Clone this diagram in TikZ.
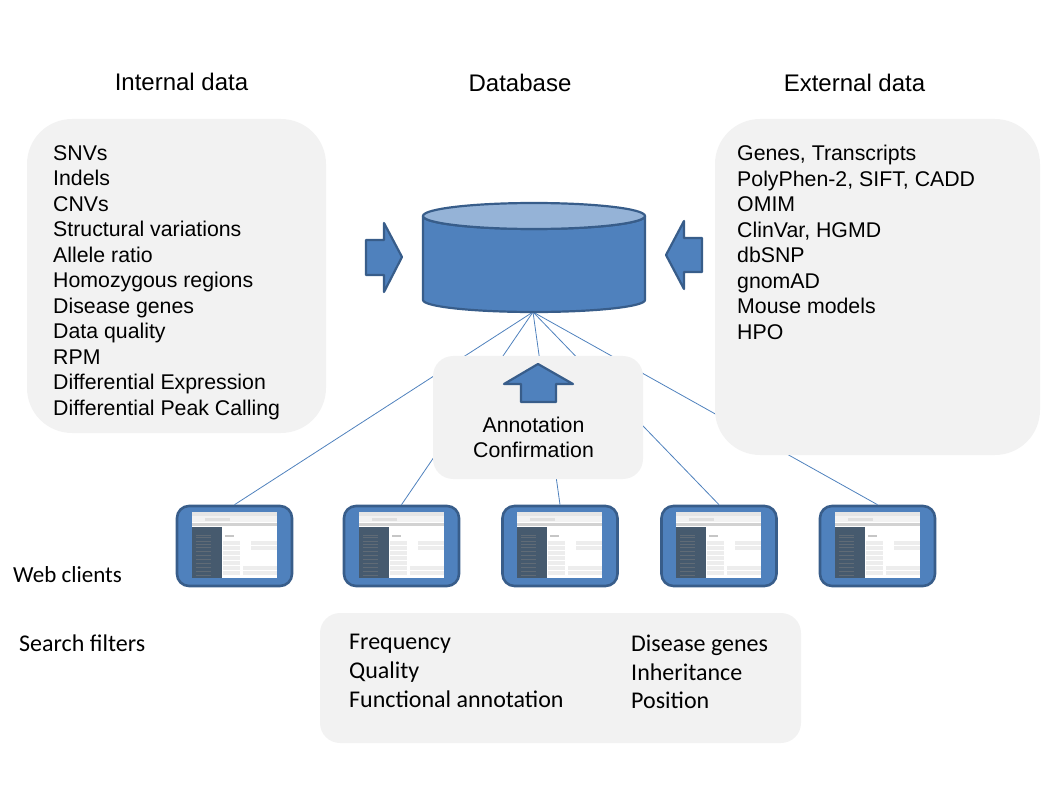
\documentclass[tikz,border=0pt]{standalone}
\usepackage{fontspec}
\setmainfont{Liberation Sans}
\newfontfamily\carlitofont{Carlito}
\definecolor{blueFill}{HTML}{4F81BD}
\definecolor{blueLine}{HTML}{385D8A}
\definecolor{blueTop}{HTML}{95B3D7}
\definecolor{panelGray}{HTML}{F2F2F2}
\definecolor{darkSide}{HTML}{465A6E}
\newcommand{\clientshot}[1]{%
  \begin{scope}[shift={(#1)}]
    \fill[white] (-43,-34) rectangle (42,32);
    \fill[gray!20] (-43,-34) rectangle (42,-30);
    \fill[gray!10] (-43,-30) rectangle (42,-24);
    \fill[gray!25] (-30,-28) rectangle (-5,-25.5);
    \fill[gray!35] (-43,-23) rectangle (42,-20);
    \fill[darkSide] (-43,-19) rectangle (-13,32);
    \foreach \yy in {-11,-9,-5,-2,1,5,9,13,17,21,25,29}
      \draw[gray!45!darkSide,line width=.5pt] (-39,\yy) -- (-24,\yy);
    \fill[gray!45] (-10,-11) rectangle (-1,-9.5);
    \foreach \yy/\xx in {-3/16,2/16,7/42,12/42,17/42,22/8,27/8}{
      \fill[gray!14] (-12,\yy-2) rectangle (42,\yy+2);
      \fill[white] (5,\yy-1.6) rectangle (\xx,\yy+1.6);
    }
  \end{scope}}
\tikzset{
  panel/.style={fill=panelGray,draw=none},
  blueshape/.style={fill=blueFill,draw=blueLine,line width=2.2pt,line join=round},
  link/.style={draw=blueFill,line width=.8pt},
  client/.style={fill=blueFill,draw=blueLine,line width=2.6pt,rounded corners=12pt,minimum width=115pt,minimum height=80pt,inner sep=0pt},
  heading/.style={font=\fontsize{24}{28}\selectfont,inner sep=0pt,anchor=base},
  listing/.style={inner sep=0pt,anchor=north west,align=left,font=\fontsize{21.3}{25.5}\selectfont},
  carlisting/.style={inner sep=0pt,anchor=north west,align=left,font=\carlitofont\fontsize{24}{28.6}\selectfont},
  sidelabel/.style={inner sep=0pt,anchor=base west,font=\carlitofont\fontsize{23}{28}\selectfont}
}
\begin{document}
\begin{tikzpicture}[x=1pt,y=-1pt]
\useasboundingbox (0,0) rectangle (1058,794);
% clients and hub
\coordinate (hub) at (533,312);
\node[client] (c1) at (234.5,546) {};
\node[client] (c2) at (401.5,546) {};
\node[client] (c3) at (560,546) {};
\node[client] (c4) at (719,546) {};
\node[client] (c5) at (877.5,546) {};
\foreach \c in {c1,c2,c3,c4,c5} \draw[link] (hub) -- (\c.north);
\foreach \c in {c1,c2,c3,c4,c5} \clientshot{\c};
% panels
\node[panel,rounded corners=45pt,minimum width=299pt,minimum height=314pt,inner sep=0pt] (internal) at (176.5,276) {};
\node[panel,rounded corners=45pt,minimum width=325pt,minimum height=336pt,inner sep=0pt] (external) at (877.5,287) {};
\node[panel,rounded corners=20pt,minimum width=210pt,minimum height=123pt,inner sep=0pt] (annot) at (538,417.5) {};
\node[panel,rounded corners=20pt,minimum width=481pt,minimum height=130pt,inner sep=0pt] (filters) at (560.5,678) {};
% cylinder
\path[blueshape] (423,216) -- (423,300) arc[start angle=180,end angle=360,x radius=111,y radius=-12] -- (645,216) arc[start angle=0,end angle=180,x radius=111,y radius=13] -- cycle;
\path[blueshape,fill=blueTop] (534,216) ellipse[x radius=111,y radius=13];
% arrows
\path[blueshape] (366,240) -- (384,240) -- (384,223) -- (402,257) -- (384,292) -- (384,275) -- (366,275) -- cycle;
\path[blueshape] (702,238) -- (684,238) -- (684,221) -- (666,255) -- (684,289) -- (684,272) -- (702,272) -- cycle;
\path[blueshape] (538,364) -- (573,384) -- (556,384) -- (556,402) -- (521,402) -- (521,384) -- (504,384) -- cycle;
% headings
\node[heading] (h1) at (181.5,90.6) {Internal data};
\node[heading] (h2) at (520,92) {Database};
\node[heading] (h3) at (854.5,92) {External data};
% lists
\node[listing] (l1) at (53,145.4) {SNVs\\Indels\\CNVs\\Structural variations\\Allele ratio\\Homozygous regions\\Disease genes\\Data quality\\RPM\\Differential Expression\\Differential Peak Calling};
\node[listing] (l2) at (737,145.2) {Genes, Transcripts\\PolyPhen-2, SIFT, CADD\\OMIM\\ClinVar, HGMD\\dbSNP\\gnomAD\\Mouse models\\HPO};
\node[listing,align=center,anchor=north] (l3) at (533.5,416.8) {Annotation\\Confirmation};
\node[carlisting] (f1) at (349,634.2) {Frequency\\Quality\\Functional annotation};
\node[carlisting] (f2) at (631,635) {Disease genes\\Inheritance\\Position};
\node[sidelabel] (s1) at (13,582) {Web clients};
\node[sidelabel,font=\carlitofont\fontsize{24}{28}\selectfont] (s2) at (19,651) {Search filters};
\end{tikzpicture}
\end{document}
